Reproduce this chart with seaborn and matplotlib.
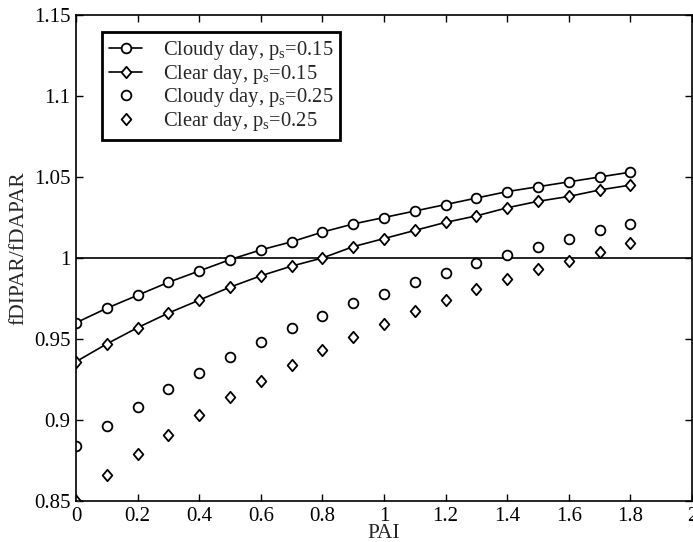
import numpy as np
import pandas as pd
import matplotlib
matplotlib.use("Agg")
import matplotlib.pyplot as plt
from matplotlib.path import Path
import seaborn as sns

pai = [0.0, 0.1, 0.2, 0.3, 0.4, 0.5, 0.6, 0.7, 0.8, 0.9,
       1.0, 1.1, 1.2, 1.3, 1.4, 1.5, 1.6, 1.7, 1.8]
cloudy_015 = [0.960, 0.969, 0.977, 0.985, 0.992, 0.999, 1.005, 1.010, 1.016, 1.021,
              1.025, 1.029, 1.033, 1.037, 1.041, 1.044, 1.047, 1.050, 1.053]
clear_015 = [0.936, 0.947, 0.957, 0.966, 0.974, 0.982, 0.989, 0.995, 1.000, 1.007,
             1.012, 1.017, 1.022, 1.026, 1.031, 1.035, 1.038, 1.042, 1.045]
cloudy_025 = [0.884, 0.896, 0.908, 0.919, 0.929, 0.939, 0.948, 0.957, 0.964, 0.972,
              0.978, 0.985, 0.991, 0.997, 1.002, 1.007, 1.012, 1.017, 1.021]
clear_025 = [0.850, 0.866, 0.879, 0.891, 0.903, 0.914, 0.924, 0.934, 0.943, 0.951,
             0.959, 0.967, 0.974, 0.981, 0.987, 0.993, 0.998, 1.004, 1.009]

labels = [r"Cloudy day, p$_{\rm s}$=0.15", r"Clear day, p$_{\rm s}$=0.15",
          r"Cloudy day, p$_{\rm s}$=0.25", r"Clear day, p$_{\rm s}$=0.25"]
xticks = [0, 0.2, 0.4, 0.6, 0.8, 1, 1.2, 1.4, 1.6, 1.8, 2]
xticklabels = ["0", "0.2", "0.4", "0.6", "0.8", "1", "1.2", "1.4", "1.6", "1.8", "2"]
yticks = [0.85, 0.9, 0.95, 1.0, 1.05, 1.1, 1.15]
yticklabels = ["0.85", "0.9", "0.95", "1", "1.05", "1.1", "1.15"]
ref_level = 1.0

sns.set_theme(style="ticks")
plt.rcParams["font.family"] = ["Liberation Serif", "DejaVu Serif"]
plt.rcParams["mathtext.fontset"] = "custom"
plt.rcParams["mathtext.rm"] = "Liberation Serif"
plt.rcParams["mathtext.it"] = "Liberation Serif:italic"

diamond = Path([(0, 1), (0.85, 0), (0, -1), (-0.85, 0), (0, 1)],
               [Path.MOVETO, Path.LINETO, Path.LINETO, Path.LINETO, Path.CLOSEPOLY])

fig = plt.figure(figsize=(6.93, 5.42), dpi=100)
ax = fig.add_axes([76 / 693, 1 - 501 / 542, 616 / 693, 486 / 542])

df = pd.DataFrame({"PAI": pai, "c15": cloudy_015, "d15": clear_015,
                   "c25": cloudy_025, "d25": clear_025})

common = dict(color="black", markerfacecolor="white", markeredgecolor="black",
              markeredgewidth=1.3, linewidth=1.2)
sns.lineplot(data=df, x="PAI", y="c15", ax=ax, marker="o", markersize=7,
             label=labels[0], **common)
sns.lineplot(data=df, x="PAI", y="d15", ax=ax, marker=diamond, markersize=8.2,
             label=labels[1], **common)
sns.lineplot(data=df, x="PAI", y="c25", ax=ax, marker="o", markersize=7,
             linestyle="none", label=labels[2], **common)
sns.lineplot(data=df, x="PAI", y="d25", ax=ax, marker=diamond, markersize=8.2,
             linestyle="none", label=labels[3], **common)
ax.axhline(ref_level, color="black", linewidth=1.2, zorder=1)

ax.set_xlim(0, 2)
ax.set_ylim(0.85, 1.15)
ax.set_xticks(xticks)
ax.set_xticklabels(xticklabels)
ax.set_yticks(yticks)
ax.set_yticklabels(yticklabels)
ax.tick_params(direction="in", top=True, right=True, length=5, width=1,
               labelsize=15, pad=4, colors="black")
for s in ax.spines.values():
    s.set_linewidth(1.2)
    s.set_color("black")
ax.set_xlabel("PAI", fontsize=15.5, labelpad=-1)
ax.set_ylabel("fDIPAR/fDAPAR", fontsize=15.5)
ax.yaxis.set_label_coords(-0.077, 0.52)

leg = ax.legend(loc="upper left", bbox_to_anchor=(0.042, 0.965), borderaxespad=0,
                fontsize=14.8, frameon=True, fancybox=False, handlelength=1.6,
                handletextpad=1.0, labelspacing=0.03, borderpad=0.35)
leg.get_frame().set_edgecolor("black")
leg.get_frame().set_linewidth(2)
leg.get_frame().set_alpha(1)

fig.savefig("out.png", dpi=100)
